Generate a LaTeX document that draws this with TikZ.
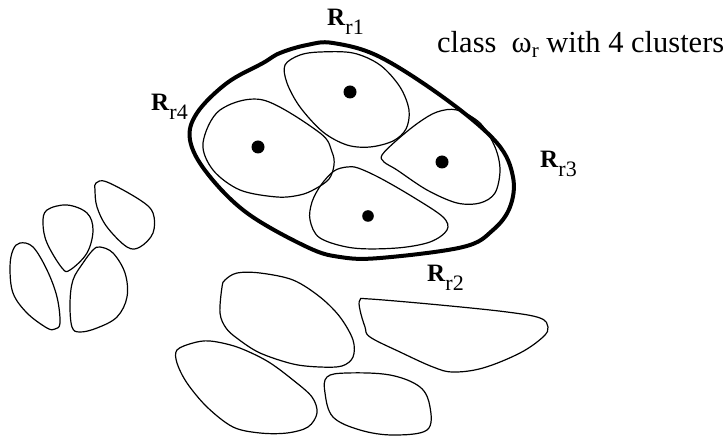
\documentclass[tikz,border=0pt]{standalone}
\usepackage{fontspec}
\setmainfont{Liberation Serif}
\newcommand{\lblR}[1]{\textbf{R}\raisebox{-9pt}{\fontsize{22}{22}\selectfont #1}}
\begin{document}
\begin{tikzpicture}[x=1pt,y=-1pt,
  thinblob/.style={draw=black,line width=1.2pt},
  thickblob/.style={draw=black,line width=4pt},
  dotc/.style={fill=black},
  lbl/.style={font=\fontsize{25}{28}\selectfont,inner sep=0pt},
  capt/.style={font=\fontsize{30.5}{33}\selectfont,inner sep=0pt}]
\useasboundingbox (0,0) rectangle (728,443);
% outer class boundary
\draw[thickblob] plot[smooth cycle,tension=0.6] coordinates{
 (333,43) (380,57) (447,100) (497,143) (513,177) (510,207) (493,230) (463,247)
 (380,258) (340,257) (307,247) (247,213) (207,173) (190,140) (197,113) (227,83)
 (263,63) (280,53) (307,45)};
% cluster 1 (top)
\draw[thinblob] plot[smooth cycle,tension=0.55] coordinates{
 (285,65) (300,55) (320,52) (353,53) (380,65) (400,87) (409,110) (406,129) (393,141) (370,147) (347,145) (323,132) (300,107) (287,83)};
% cluster 4 (left)
\draw[thinblob] plot[smooth cycle,tension=0.55] coordinates{
 (203,143) (220,110) (263,100) (320,133) (332,152) (334,165) (329,179) (315,189) (300,195) (277,197) (240,190) (213,170)};
% cluster 3 (right)
\draw[thinblob] plot[smooth cycle,tension=0.55] coordinates{
 (382,155) (397,140) (418,123) (437,112) (457,110) (480,123) (495,147) (500,170) (495,193) (480,203) (457,203) (427,190) (397,170) (384,162)};
% cluster 2 (bottom)
\draw[thinblob] plot[smooth cycle,tension=0.55] coordinates{
 (347,167) (358,168) (380,178) (413,197) (443,217) (447,230) (430,242) (397,248) (353,248) (320,238) (310,220) (312,202) (321,185) (334,171)};
% centroids
\fill[dotc] (350,92) circle (6.5pt);
\fill[dotc] (258,147) circle (6.5pt);
\fill[dotc] (442,162) circle (6.5pt);
\fill[dotc] (368,216) circle (5.8pt);
% left group
\draw[thinblob] plot[smooth cycle,tension=0.6] coordinates{
 (96,183) (107,182) (140,200) (153,213) (153,233) (140,247) (127,247) (107,227) (97,207) (95,190)};
\draw[thinblob] plot[smooth cycle,tension=0.6] coordinates{
 (47,210) (67,205) (87,213) (93,230) (87,253) (70,270) (62,268) (47,243) (43,223)};
\draw[thinblob] plot[smooth cycle,tension=0.6] coordinates{
 (20,243) (33,247) (47,270) (57,297) (60,323) (55,329) (47,328) (27,313) (13,293) (10,267) (13,250)};
\draw[thinblob] plot[smooth cycle,tension=0.6] coordinates{
 (100,247) (113,253) (125,273) (127,297) (117,317) (97,328) (80,332) (72,327) (70,303) (73,280) (83,263) (93,250)};
% bottom group
\draw[thinblob] plot[smooth cycle,tension=0.55] coordinates{
 (222,287) (220,313) (226,328) (238,339) (260,353) (293,364) (320,367) (342,366) (353,357) (353,340) (340,317) (320,297) (293,280) (260,273) (237,273) (225,280)};
\draw[thinblob] plot[smooth cycle,tension=0.6] coordinates{
 (360,300) (370,299) (440,305) (507,312) (540,318) (548,327) (543,337) (520,353) (483,368) (453,372) (433,367) (400,352) (370,337) (365,327) (360,310)};
\draw[thinblob] plot[smooth cycle,tension=0.55] coordinates{
 (177,350) (193,343) (210,341) (237,347) (267,361) (293,380) (312,397) (317,413) (308,427) (287,433) (260,433) (233,427) (207,407) (187,383) (177,363)};
\draw[thinblob] plot[smooth cycle,tension=0.6] coordinates{
 (327,377) (347,373) (390,375) (420,387) (430,407) (427,430) (393,435) (360,430) (333,417) (325,393)};
% labels
\node[lbl,anchor=base west] (r1) at (327,26) {\lblR{r1}};
\node[lbl,anchor=base west] (r4) at (151,111) {\lblR{r4}};
\node[lbl,anchor=base west] (r3) at (540,168) {\lblR{r3}};
\node[lbl,anchor=base west] (r2) at (427,282) {\lblR{r2}};
\node[capt,anchor=base west] (cls) at (437,53) {class\ \ ω\raisebox{-5pt}{\fontsize{21}{21}\selectfont r} with 4 clusters};
\end{tikzpicture}
\end{document}
